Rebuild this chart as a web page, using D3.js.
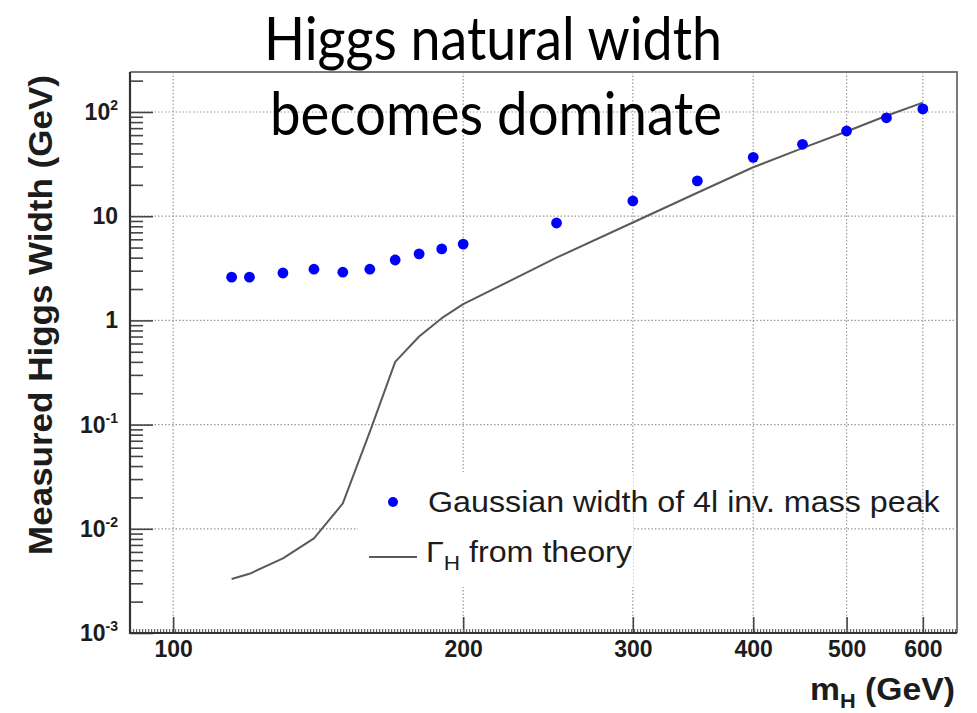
<!DOCTYPE html>
<html>
<head>
<meta charset="utf-8">
<script src="https://cdn.jsdelivr.net/npm/d3@7"></script>
<style>
  body { margin: 0; background: #fff; }
  svg { display: block; }
</style>
</head>
<body>
<svg id="chart" width="977" height="713"></svg>
<script>
// Higgs mass points (GeV) and fitted Gaussian width of the 4-lepton peak (GeV)
const massPoints    = [115, 120, 130, 140, 150, 160, 170, 180, 190, 200, 250, 300, 350, 400, 450, 500, 550, 600];
const measuredWidth = [2.6, 2.6, 2.85, 3.1, 2.9, 3.1, 3.8, 4.35, 4.85, 5.4, 8.6, 14.0, 21.8, 36.7, 49, 65.7, 88, 107];

// Theoretical total width Gamma_H (GeV)
const theoryMass  = [115, 120, 130, 140, 150, 160, 170, 180, 190, 200, 250, 300, 350, 400, 450, 500, 550, 600];
const theoryWidth = [0.0033, 0.0037, 0.0052, 0.0081, 0.0175, 0.085, 0.40, 0.70, 1.05, 1.43, 4.0, 8.7, 16.8, 29.5, 45, 65, 92, 123];

// Axis ticks and labels
const xTicks    = [100, 200, 300, 400, 500, 600];
const yMajor    = [1e-3, 1e-2, 1e-1, 1, 10, 100];
const yTickBase = ["10", "10", "10", "1", "10", "10"];
const yTickExp  = ["-3", "-2", "-1", "", "", "2"];

const titleLines  = ["Higgs natural width", "becomes dominate"];
const yAxisTitle  = "Measured Higgs Width (GeV)";
const legendPoint = "Gaussian width of 4l inv. mass peak";
const legendLine  = " from theory";

// Frame geometry
const L = 130, R = 957, T = 72, B = 633;
const sans = "'Liberation Sans', Arial, Helvetica, sans-serif";
const ink = "#1c1c1c";

const svg = d3.select("#chart");

const x = d3.scaleLog().domain([90.2, 651]).range([L, R]);
const y = d3.scaleLog().domain([1e-3, 242]).range([B, T]);

// stretch a text element horizontally so it spans the wanted width
function fitWidth(sel, targetW, ax, ay, rot) {
  const w = sel.node().getComputedTextLength();
  const s = targetW / w;
  sel.attr("transform", `translate(${ax},${ay})` + (rot ? ` rotate(${rot})` : "") + ` scale(${s},1)`);
}

// dotted grid
const grid = svg.append("g")
  .attr("stroke", "#9a9a9a").attr("stroke-width", 1.2).attr("stroke-dasharray", "1.5 2");
grid.selectAll("line.h").data(yMajor.slice(1)).join("line").attr("class", "h")
  .attr("x1", L).attr("x2", R).attr("y1", d => y(d)).attr("y2", d => y(d));
grid.selectAll("line.v").data(xTicks).join("line").attr("class", "v")
  .attr("x1", d => x(d)).attr("x2", d => x(d)).attr("y1", T).attr("y2", B);

// legend background (white, no border)
svg.append("rect").attr("x", 358).attr("y", 472).attr("width", 275).attr("height", 115)
  .attr("fill", "#fff");

// theory curve
const theory = theoryMass.map((m, i) => [m, theoryWidth[i]]);
svg.append("path").datum(theory)
  .attr("fill", "none").attr("stroke", "#5a5a5a").attr("stroke-width", 2)
  .attr("stroke-linejoin", "round")
  .attr("d", d3.line().x(d => x(d[0])).y(d => y(d[1])));

// measured points
svg.append("g").selectAll("circle").data(massPoints.map((m, i) => [m, measuredWidth[i]]))
  .join("circle")
  .attr("cx", d => x(d[0])).attr("cy", d => y(d[1])).attr("r", 5.4)
  .attr("fill", "#0000ff");

// y axis: major and minor ticks pointing into the frame
const yMinor = [];
for (let e = -3; e <= 2; e++) for (let k = 2; k <= 9; k++) {
  const v = k * Math.pow(10, e);
  if (v < 242) yMinor.push(v);
}
const yAx = svg.append("g").attr("transform", `translate(${L},0)`);
yAx.append("g").call(d3.axisLeft(y).tickValues(yMinor).tickSize(-13).tickFormat(""));
yAx.append("g").call(d3.axisLeft(y).tickValues(yMajor).tickSize(-23).tickFormat(""));
yAx.selectAll(".domain").remove();
yAx.selectAll(".tick line").attr("stroke", "#444").attr("stroke-width", 1.6);

// y tick labels with exponents
const yLab = svg.append("g").attr("font-family", sans).attr("font-weight", "bold")
  .attr("font-size", 23).attr("fill", ink).attr("text-anchor", "end");
yMajor.forEach((v, i) => {
  const t = yLab.append("text").attr("x", L - 12).attr("y", y(v) + 8);
  t.append("tspan").text(yTickBase[i]);
  if (yTickExp[i]) t.append("tspan").attr("dy", -10).attr("font-size", 14).text(yTickExp[i]);
});

// x axis ticks and labels
const xAx = svg.append("g").attr("transform", `translate(0,${B})`)
  .call(d3.axisBottom(x).tickValues(xTicks).tickSize(-16).tickPadding(8).tickFormat(d3.format("d")));
xAx.select(".domain").remove();
xAx.selectAll(".tick line").attr("stroke", "#444").attr("stroke-width", 1.6);
xAx.selectAll(".tick text").attr("font-family", sans).attr("font-weight", "bold")
  .attr("font-size", 23).attr("fill", ink);

// fine minor tick strip along the bottom axis
svg.append("line").attr("x1", L).attr("x2", R).attr("y1", B - 2.5).attr("y2", B - 2.5)
  .attr("stroke", "#666").attr("stroke-width", 3).attr("stroke-dasharray", "1.2 1.8");

// frame
svg.append("path").attr("d", `M${L},${T}H${R}V${B}`)
  .attr("fill", "none").attr("stroke", "#7a7a7a").attr("stroke-width", 2);
svg.append("path").attr("d", `M${L},${T}V${B}H${R}`)
  .attr("fill", "none").attr("stroke", "#333").attr("stroke-width", 2.2);

// legend entries
svg.append("circle").attr("cx", 393).attr("cy", 502).attr("r", 5).attr("fill", "#0000ff");
svg.append("line").attr("x1", 369).attr("x2", 417).attr("y1", 557).attr("y2", 557)
  .attr("stroke", "#5a5a5a").attr("stroke-width", 2);
const lg1 = svg.append("text").attr("font-family", sans).attr("font-size", 30)
  .attr("fill", ink).text(legendPoint);
fitWidth(lg1, 512, 428, 512);
const lg2 = svg.append("text").attr("font-family", sans).attr("font-size", 30).attr("fill", ink);
lg2.append("tspan").text("Γ");
lg2.append("tspan").attr("dy", 8).attr("font-size", 21).text("H");
lg2.append("tspan").attr("dy", -8).text(legendLine);
fitWidth(lg2, 206, 426, 562);

// axis titles
const yt = svg.append("text").attr("font-family", sans).attr("font-weight", "bold")
  .attr("font-size", 33).attr("fill", ink).attr("text-anchor", "middle").text(yAxisTitle);
fitWidth(yt, 480, 52, 315, -90);

const xt = svg.append("text").attr("font-family", sans).attr("font-weight", "bold")
  .attr("font-size", 31).attr("fill", ink).attr("text-anchor", "end");
xt.append("tspan").text("m");
xt.append("tspan").attr("dy", 8).attr("font-size", 20).text("H");
xt.append("tspan").attr("dy", -8).text(" (GeV)");
fitWidth(xt, 145, 955, 700);

// headline over the plot
const ttl1 = svg.append("text").attr("font-family", "Lato, 'Open Sans', sans-serif")
  .attr("font-size", 60).attr("fill", "#000").attr("text-anchor", "middle").text(titleLines[0]);
fitWidth(ttl1, 458, 493, 60);
const ttl2 = svg.append("text").attr("font-family", "Lato, 'Open Sans', sans-serif")
  .attr("font-size", 60).attr("fill", "#000").attr("text-anchor", "middle").text(titleLines[1]);
fitWidth(ttl2, 452, 496, 135);
</script>
</body>
</html>
